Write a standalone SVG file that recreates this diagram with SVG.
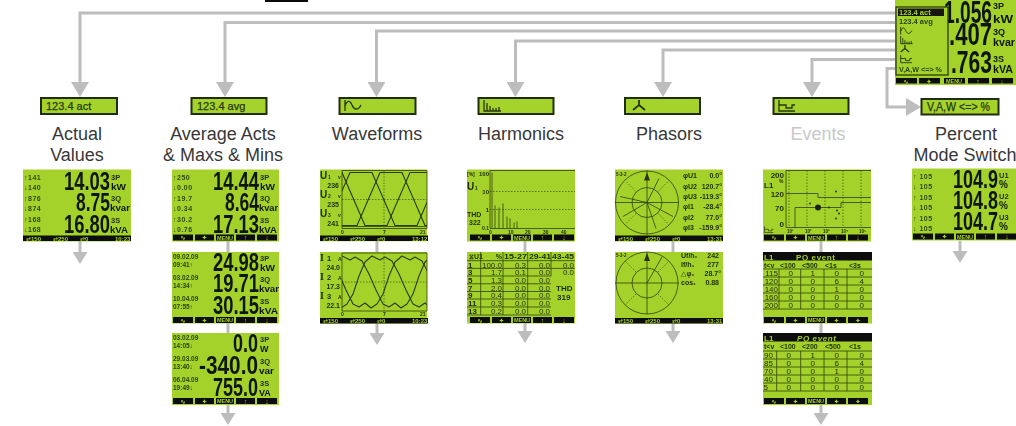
<svg xmlns="http://www.w3.org/2000/svg" width="1016" height="426" viewBox="0 0 1016 426">
<style>
text{font-family:"Liberation Sans",Arial,"DejaVu Sans",sans-serif;fill:#1d2c08}
.bg{fill:#a5d22b}
.lb{fill:#a5d22b;stroke:#1f2e0c;stroke-width:2}
.lt{font-size:11px;fill:#25390b;stroke:#25390b;stroke-width:.25}
.ti{font-size:18px;fill:#383838;text-anchor:middle}
.n{font-size:25px;font-weight:700;fill:#10180a}
.u{font-size:9px;font-weight:700;fill:#10180a}
.us{font-size:7.5px;font-weight:700}
.m{font-size:7px;font-weight:700;fill:#2f4a0e;letter-spacing:.5px}
.d{font-size:6.5px;font-weight:700;fill:#2a420c}
.k{font-size:7px;font-weight:700;fill:#a5d22b;text-anchor:middle}
.km{font-size:5.500px;font-weight:700;fill:#a5d22b;text-anchor:middle}
.st{font-size:6px;font-weight:700;fill:#a5d22b}
.c{fill:none;stroke:#bdbdbd;stroke-width:3}
.p{fill:none;stroke:#2e3f10;stroke-width:.8}
.w{fill:none;stroke:#2a3c0e;stroke-width:1.100;stroke-linejoin:round}
.dot{fill:none;stroke:#3a5010;stroke-width:.7;stroke-dasharray:1.500 1.500}
.b{font-size:8px;font-weight:700;fill:#1d2c08}
.bs{font-size:7px;font-weight:700;fill:#1d2c08}
.r{text-anchor:end}
.t{font-size:8px;fill:#1d2c08;text-anchor:end}
.tl{font-size:8px;font-weight:700;fill:#1d2c08}
.i{fill:none;stroke:#26360c;stroke-width:1.300}
</style>
<defs>
<filter id="soft" x="-2%" y="-2%" width="104%" height="104%"><feGaussianBlur stdDeviation="0.3"/></filter>
<marker id="big" markerUnits="userSpaceOnUse" markerWidth="15" markerHeight="18" refX="12" refY="9" orient="auto"><path d="M0 0L15 9L0 18Z" fill="#bdbdbd"/></marker>
<marker id="small" markerUnits="userSpaceOnUse" markerWidth="12" markerHeight="15" refX="9" refY="7.500" orient="auto"><path d="M0 0L12 7.500L0 15Z" fill="#bdbdbd"/></marker>
<g id="keys">
<path d="M1 65h20v6H1zM23 65h19v6H23zM44 65h18v6H44zM64 65h19v6H64zM85 65h20v6H85z" fill="#0c0c08"/>
<text class="k" x="11" y="70.500">∿</text><text class="k" x="32.500" y="70.500">✦</text><text class="km" x="53" y="70">MENU</text><text class="k" x="73.500" y="70.500">↑</text><text class="k" x="95" y="70.500">↓</text>
</g>
<g id="keysE">
<path d="M1 65h20v6H1zM23 65h19v6H23zM44 65h18v6H44zM64 65h19v6H64zM85 65h20v6H85z" fill="#0c0c08"/>
<text class="k" x="11" y="70.500">∿</text><text class="k" x="32.500" y="70.500">✦</text><text class="km" x="53" y="70">MENU</text><text class="k" x="73.500" y="70.500">✦</text><text class="k" x="95" y="70.500">✦</text>
</g>
<g id="stat">
<rect x="0" y="66" width="108" height="5.500" fill="#0c0c08"/>
<text class="st" x="3" y="71">⇄150</text><text class="st" x="30" y="71">⇄250</text><text class="st" x="57" y="71">⇄0</text>
</g>
<path id="sw" d="M0 3L23 56L45 56L68 3L90 3L113 56L135 56L158 3L180 3L203 56L225 56"/>
<path id="iw" d="M0 4L8 8L13 5L20 9L27 22L34 38L41 52L47 55L53 51L59 56L65 52L71 42L77 24L83 10L90 4L98 8L103 5L110 9L117 22L124 38L131 52L137 55L143 51L149 56L155 52L161 42L167 24L173 10L180 4L188 8L193 5L200 9L207 22"/>
<g id="icoW" class="i"><path d="M1 0V11M1 6C3 0 6 0 8 5S14 11 17 5"/></g>
<g id="icoH" class="i"><path d="M1 0V11H18M4 3V11M7 6V11M10 8V11M13 8V11M16 7V11"/></g>
<g id="icoP" class="i"><path d="M7 5V0M7 5L1 10M7 5L13 10" stroke-width="1.800"/></g>
<g id="icoE" class="i"><path d="M1 0V11H17M1 5H8V8H14V5H17"/></g>
<clipPath id="plotW"><rect x="22" y="1" width="85" height="58"/></clipPath>
</defs>

<g id="connectors">
<path class="c" marker-end="url(#big)" d="M895 13H80V94"/>
<path class="c" marker-end="url(#big)" d="M895 22.500H225V94"/>
<path class="c" marker-end="url(#big)" d="M895 31H376.500V94"/>
<path class="c" marker-end="url(#big)" d="M895 41H515.500V94"/>
<path class="c" marker-end="url(#big)" d="M895 50H663V94"/>
<path class="c" marker-end="url(#big)" d="M895 59.500H812V94"/>
<path class="c" marker-end="url(#big)" d="M895 68.500H887V107H918"/>
<path class="c" marker-end="url(#small)" d="M80 241V261"/>
<path class="c" d="M228 241V252M228 323V333"/>
<path class="c" marker-end="url(#small)" d="M228 405V422"/>
<path class="c" d="M377 241V252"/>
<path class="c" marker-end="url(#small)" d="M377 323V342"/>
<path class="c" d="M525 241V252"/>
<path class="c" marker-end="url(#small)" d="M525 323V340"/>
<path class="c" d="M673 241V252"/>
<path class="c" marker-end="url(#small)" d="M673 323V340"/>
<path class="c" d="M821 241V252M821 323V333"/>
<path class="c" marker-end="url(#small)" d="M821 405V422"/>
<path class="c" marker-end="url(#small)" d="M960 241V260"/>
</g>

<rect id="top-bar" x="265" y="0" width="43" height="2" fill="#0a0a0a"/>

<g id="device" filter="url(#soft)">
<rect class="bg" x="895" y="0" width="121" height="85"/>
<text class="n" style="font-size:31px" x="944" y="23" textLength="48" lengthAdjust="spacingAndGlyphs">1.056</text>
<text class="n" style="font-size:31px" x="949" y="45" textLength="43" lengthAdjust="spacingAndGlyphs">.407</text>
<text class="n" style="font-size:31px" x="951" y="73" textLength="41" lengthAdjust="spacingAndGlyphs">.763</text>
<text class="u" style="font-size:9px" x="993" y="9">3P</text><text class="u" style="font-size:10px" x="993" y="23" textLength="20" lengthAdjust="spacingAndGlyphs">kW</text>
<text class="u" style="font-size:9px" x="993" y="35">3Q</text><text class="u" style="font-size:10px" x="993" y="46" textLength="22" lengthAdjust="spacingAndGlyphs">kvar</text>
<text class="u" style="font-size:9px" x="993" y="62">3S</text><text class="u" style="font-size:10px" x="993" y="73" textLength="20" lengthAdjust="spacingAndGlyphs">kVA</text>
<rect x="896" y="7" width="52" height="68" fill="#a5d22b" stroke="#1f2e0c" stroke-width="1.200"/>
<rect x="898" y="8.500" width="46" height="7.500" fill="#12180a"/>
<text x="899" y="15" style="font-size:7.500px;font-weight:700;fill:#a5d22b">123.4 act</text>
<text x="899" y="24" style="font-size:7.500px;font-weight:700;fill:#2a420c">123.4 avg</text>
<use href="#icoW" transform="translate(900,27) scale(.7)"/>
<use href="#icoH" transform="translate(900,36) scale(.7)"/>
<use href="#icoP" transform="translate(900,45) scale(.7)"/>
<use href="#icoE" transform="translate(900,55) scale(.7)"/>
<text x="899" y="72" style="font-size:8px;font-weight:700;fill:#2a420c" textLength="43" lengthAdjust="spacingAndGlyphs">V,A,W &lt;=&gt; %</text>
<path d="M896 78h21v5.500H896zM919 78h21v5.500H919zM944 78h21v5.500H944zM968 78h21v5.500H968zM992 78h21v5.500H992z" fill="#0c0c08"/>
<text class="k" x="906" y="83.500">∿</text><text class="k" x="929" y="83.500">✦</text><text class="km" x="954" y="83">MENU</text><text class="k" x="978" y="83.500">↑</text><text class="k" x="1002" y="83.500">↓</text>
</g>

<g id="label-actual"><rect class="lb" x="41" y="98" width="76" height="16"/><text class="lt" x="46" y="110">123.4 act</text></g>
<g id="label-average"><rect class="lb" x="191.500" y="98" width="75" height="16"/><text class="lt" x="197" y="110">123.4 avg</text></g>
<g id="label-waveforms"><rect class="lb" x="339.500" y="98" width="76" height="16"/><use href="#icoW" x="344" y="100"/></g>
<g id="label-harmonics"><rect class="lb" x="478.500" y="98" width="75" height="16"/><use href="#icoH" x="483" y="100"/></g>
<g id="label-phasors"><rect class="lb" x="625" y="98" width="75" height="16"/><use href="#icoP" x="632" y="100"/></g>
<g id="label-events"><rect class="lb" x="773.500" y="98" width="75" height="16"/><use href="#icoE" x="778" y="100"/></g>
<g id="label-percent"><rect class="lb" x="921.500" y="99" width="77" height="15.500"/><text class="lt" style="font-size:12px" x="927" y="111" textLength="63" lengthAdjust="spacingAndGlyphs">V,A,W &lt;=&gt; %</text></g>

<text class="ti" x="77" y="140">Actual</text><text class="ti" x="77" y="161">Values</text>
<text class="ti" x="223" y="140">Average Acts</text><text class="ti" x="223" y="161">&amp; Maxs &amp; Mins</text>
<text class="ti" x="377" y="140">Waveforms</text>
<text class="ti" x="521" y="140">Harmonics</text>
<text class="ti" x="669" y="140">Phasors</text>
<text class="ti" x="818" y="140" style="fill:#c9c9c9">Events</text>
<text class="ti" x="966" y="140">Percent</text><text class="ti" x="965" y="161">Mode Switch</text>

<g id="screen-actual" transform="translate(23,169.500)" filter="url(#soft)">
<rect class="bg" width="108" height="72"/>
<text class="m" x="1" y="10">↑141</text><text class="m" x="1" y="20">↓140</text><text class="m" x="1" y="31">↑876</text><text class="m" x="1" y="41">↓874</text><text class="m" x="1" y="52">↑168</text><text class="m" x="1" y="62">↓168</text>
<text class="n" x="41" y="20" textLength="46" lengthAdjust="spacingAndGlyphs">14.03</text>
<text class="n" x="53" y="41" textLength="34" lengthAdjust="spacingAndGlyphs">8.75</text>
<text class="n" x="41" y="63" textLength="46" lengthAdjust="spacingAndGlyphs">16.80</text>
<text class="us" x="88" y="10">3P</text><text class="u" x="88" y="20" textLength="15" lengthAdjust="spacingAndGlyphs">kW</text>
<text class="us" x="88" y="31">3Q</text><text class="u" x="87" y="41" textLength="20" lengthAdjust="spacingAndGlyphs">kvar</text>
<text class="us" x="88" y="53">3S</text><text class="u" x="87" y="63" textLength="18" lengthAdjust="spacingAndGlyphs">kVA</text>
<use href="#stat"/><text class="st" x="92" y="71">10:23</text>
</g>

<g id="screen-average" transform="translate(172,169.500)" filter="url(#soft)">
<rect class="bg" width="107" height="72"/>
<text class="m" x="1" y="10">↑250</text><text class="m" x="1" y="20">↓0.00</text><text class="m" x="1" y="31">↑19.7</text><text class="m" x="1" y="41">↓0.34</text><text class="m" x="1" y="52">↑30.2</text><text class="m" x="1" y="62">↓0.76</text>
<text class="n" x="41" y="20" textLength="46" lengthAdjust="spacingAndGlyphs">14.44</text>
<text class="n" x="53" y="41" textLength="34" lengthAdjust="spacingAndGlyphs">8.64</text>
<text class="n" x="41" y="63" textLength="46" lengthAdjust="spacingAndGlyphs">17.13</text>
<text class="us" x="88" y="10">3P</text><text class="u" x="88" y="20" textLength="15" lengthAdjust="spacingAndGlyphs">kW</text>
<text class="us" x="88" y="31">3Q</text><text class="u" x="87" y="41" textLength="19" lengthAdjust="spacingAndGlyphs">kvar</text>
<text class="us" x="88" y="53">3S</text><text class="u" x="87" y="63" textLength="18" lengthAdjust="spacingAndGlyphs">kVA</text>
<use href="#keys"/>
</g>

<g id="screen-max" transform="translate(172,252)" filter="url(#soft)">
<rect class="bg" width="107" height="71.500"/>
<text class="d" x="1" y="7">09.02.09</text><text class="d" x="1" y="15">09:41↑</text>
<text class="d" x="1" y="28">03.02.09</text><text class="d" x="1" y="36">14:34↑</text>
<text class="d" x="1" y="49">10.04.09</text><text class="d" x="1" y="57">07:55↑</text>
<text class="n" x="41" y="19" textLength="46" lengthAdjust="spacingAndGlyphs">24.98</text>
<text class="n" x="41" y="40" textLength="46" lengthAdjust="spacingAndGlyphs">19.71</text>
<text class="n" x="41" y="62" textLength="46" lengthAdjust="spacingAndGlyphs">30.15</text>
<text class="us" x="88" y="9">3P</text><text class="u" x="88" y="19" textLength="15" lengthAdjust="spacingAndGlyphs">kW</text>
<text class="us" x="88" y="30">3Q</text><text class="u" x="87" y="40" textLength="20" lengthAdjust="spacingAndGlyphs">kvar</text>
<text class="us" x="88" y="52">3S</text><text class="u" x="87" y="62" textLength="19" lengthAdjust="spacingAndGlyphs">kVA</text>
<use href="#keys"/>
</g>

<g id="screen-min" transform="translate(172,333)" filter="url(#soft)">
<rect class="bg" width="107" height="72"/>
<text class="d" x="1" y="7">03.02.09</text><text class="d" x="1" y="15">14:05↓</text>
<text class="d" x="1" y="28">29.03.09</text><text class="d" x="1" y="36">13:40↓</text>
<text class="d" x="1" y="49">06.04.09</text><text class="d" x="1" y="57">19:49↓</text>
<text class="n" x="61" y="19" textLength="25" lengthAdjust="spacingAndGlyphs">0.0</text>
<text class="n" x="27" y="41" textLength="59" lengthAdjust="spacingAndGlyphs">-340.0</text>
<text class="n" x="41" y="63" textLength="45" lengthAdjust="spacingAndGlyphs">755.0</text>
<text class="us" x="88" y="9">3P</text><text class="u" x="88" y="19">W</text>
<text class="us" x="88" y="31">3Q</text><text class="u" x="87" y="41" textLength="15" lengthAdjust="spacingAndGlyphs">var</text>
<text class="us" x="88" y="53">3S</text><text class="u" x="87" y="63">VA</text>
<use href="#keys"/>
</g>

<g id="screen-wave-u" transform="translate(320,169.500)" filter="url(#soft)">
<rect class="bg" width="107" height="72"/>
<text class="b" style="font-size:10px" x="0" y="9">U</text><text class="us" style="font-size:5px" x="8" y="9">1</text><text class="us" style="font-size:5px" x="18" y="9">v</text><text class="bs r" x="19" y="18">236</text>
<text class="b" style="font-size:10px" x="0" y="28">U</text><text class="us" style="font-size:5px" x="8" y="28">2</text><text class="us" style="font-size:5px" x="18" y="28">v</text><text class="bs r" x="19" y="37">235</text>
<text class="b" style="font-size:10px" x="0" y="47">U</text><text class="us" style="font-size:5px" x="8" y="47">3</text><text class="us" style="font-size:5px" x="18" y="47">v</text><text class="bs r" x="19" y="56">241</text>
<path class="p" d="M22 1H107V59H22ZM22 57H107"/>
<path class="dot" d="M22 30H107M64 1V59"/>
<g clip-path="url(#plotW)" class="w">
<use href="#sw" x="-68"/><use href="#sw" x="-38"/><use href="#sw" x="-8"/>
</g>
<text class="us" style="font-size:5px" x="21" y="64">0</text><text class="us" style="font-size:5px" x="63" y="64">7</text><text class="us" style="font-size:5px" x="100" y="64">21</text>
<use href="#stat"/><text class="st" x="92" y="71">13:12</text>
</g>

<g id="screen-wave-i" transform="translate(320,252)" filter="url(#soft)">
<rect class="bg" width="107" height="71.500"/>
<text class="b" style="font-size:10px;font-family:'Liberation Serif',serif" x="0" y="9">I</text><text class="us" x="7" y="9">1</text><text class="us" style="font-size:5px" x="18" y="9">A</text><text class="bs r" x="20" y="18">24.0</text>
<text class="b" style="font-size:10px;font-family:'Liberation Serif',serif" x="0" y="28">I</text><text class="us" x="7" y="28">2</text><text class="us" style="font-size:5px" x="18" y="28">A</text><text class="bs r" x="20" y="37">17.3</text>
<text class="b" style="font-size:10px;font-family:'Liberation Serif',serif" x="0" y="47">I</text><text class="us" x="7" y="47">3</text><text class="us" style="font-size:5px" x="18" y="47">A</text><text class="bs r" x="20" y="56">22.1</text>
<path class="p" d="M22 1H107V59H22Z"/>
<path class="dot" d="M22 30H107M64 1V59"/>
<g clip-path="url(#plotW)" class="w">
<use href="#iw" x="-68"/><use href="#iw" x="-38"/><use href="#iw" x="-8"/>
</g>
<text class="us" style="font-size:5px" x="21" y="64">0</text><text class="us" style="font-size:5px" x="63" y="64">7</text><text class="us" style="font-size:5px" x="100" y="64">21</text>
<use href="#stat"/><text class="st" x="92" y="71">10:23</text>
</g>

<g id="screen-harm-plot" transform="translate(467,169.500)" filter="url(#soft)">
<rect class="bg" width="108" height="72"/>
<text class="us" style="font-size:5px" x="0" y="6">[%]</text><text class="us r" style="font-size:6px" x="22" y="6">100</text>
<text class="b" style="font-size:10px" x="0" y="20">U</text><text class="us" style="font-size:5px" x="8" y="20">1</text>
<text class="us r" style="font-size:6px" x="22" y="24">10</text><text class="us r" style="font-size:6px" x="22" y="42">1</text>
<text class="bs" x="0" y="47">THD</text><text class="bs" x="2" y="55">322</text><text class="us r" style="font-size:5px" x="22" y="60">0.1</text>
<path class="p" d="M23 1H108M23 1V59H108"/>
<path class="dot" d="M23 22H108M23 40H108"/>
<path class="p" d="M25 3V59" stroke-width="2"/>
<path class="p" d="M28 36V59M32 38V59M36 34V59M40 47V59M43 49V59M47 53V59M50 52V59"/>
<text class="us" style="font-size:5px" x="22" y="64">0</text><text class="us" style="font-size:5px" x="41" y="64">10</text><text class="us" style="font-size:5px" x="58" y="64">20</text><text class="us" style="font-size:5px" x="76" y="64">30</text><text class="us" style="font-size:5px" x="94" y="64">40</text>
<use href="#keys" transform="translate(2,0)"/>
</g>

<g id="screen-harm-table" transform="translate(467,252)" filter="url(#soft)">
<rect class="bg" width="108" height="71.500"/>
<path class="p" d="M0 8.700H108M0 16.400H108M0 24H84M0 31.800H84M0 39.500H84M0 47H84M0 55H84M0 63H84M13.700 0V63M36 0V63M60.700 0V63M84 0V24"/>
<text class="bs" x="2" y="7">⧖U1</text><text class="bs r" x="35" y="7">%</text><text class="bs" x="37" y="7" textLength="23" lengthAdjust="spacingAndGlyphs">15-27</text><text class="bs" x="62" y="7" textLength="22" lengthAdjust="spacingAndGlyphs">29-41</text><text class="bs" x="85" y="7" textLength="22" lengthAdjust="spacingAndGlyphs">43-45</text>
<text class="tl" x="1" y="15.500">1</text><text class="t" x="35" y="15.500">100.0</text><text class="t" x="59" y="15.500">0.3</text><text class="t" x="83" y="15.500">0.0</text><text class="t" x="107" y="15.500">0.0</text>
<text class="tl" x="1" y="23">3</text><text class="t" x="35" y="23">1.7</text><text class="t" x="59" y="23">0.1</text><text class="t" x="83" y="23">0.0</text><text class="t" x="107" y="23">0.0</text>
<text class="tl" x="1" y="31">5</text><text class="t" x="35" y="31">1.3</text><text class="t" x="59" y="31">0.0</text><text class="t" x="83" y="31">0.0</text>
<text class="tl" x="1" y="38.500">7</text><text class="t" x="35" y="38.500">2.0</text><text class="t" x="59" y="38.500">0.0</text><text class="t" x="83" y="38.500">0.0</text>
<text class="tl" x="1" y="46">9</text><text class="t" x="35" y="46">0.4</text><text class="t" x="59" y="46">0.0</text><text class="t" x="83" y="46">0.0</text>
<text class="tl" x="1" y="54">11</text><text class="t" x="35" y="54">0.3</text><text class="t" x="59" y="54">0.0</text><text class="t" x="83" y="54">0.0</text>
<text class="tl" x="1" y="62">13</text><text class="t" x="35" y="62">0.2</text><text class="t" x="59" y="62">0.0</text><text class="t" x="83" y="62">0.0</text>
<text class="b" x="89" y="39">THD</text><text class="b" x="90" y="48">319</text>
<use href="#keys" transform="translate(2,0)"/>
</g>

<g id="screen-phasor-angles" transform="translate(615,169.500)" filter="url(#soft)">
<rect class="bg" width="108" height="72"/>
<circle class="p" cx="32" cy="33" r="31.500"/><circle class="p" cx="32" cy="33" r="15"/>
<path class="p" d="M0 33H64M32 1V65"/>
<path class="dot" d="M21 22L10 11M43 44L54 55M21 44L10 55M43 22L54 11"/>
<path class="p" stroke-width="1.200" d="M32 33L44 9M32 33L5 27M32 33L8 47M32 33L58 47M32 33L41 59"/>
<path d="M32 3L29 11H35Z" fill="#26360c"/>
<text class="us" style="font-size:4.500px" x="1" y="6">5-3-2</text>
<text class="bs" x="68" y="8">φU1</text><text class="bs r" x="107" y="8">0.0°</text>
<text class="bs" x="68" y="19">φU2</text><text class="bs r" x="107" y="19">120.7°</text>
<text class="bs" x="68" y="29">φU3</text><text class="bs r" x="107" y="29">-119.3°</text>
<text class="bs" x="68" y="39">φI1</text><text class="bs r" x="107" y="39">-28.4°</text>
<text class="bs" x="68" y="50">φI2</text><text class="bs r" x="107" y="50">77.0°</text>
<text class="bs" x="68" y="60">φI3</text><text class="bs r" x="107" y="60">-159.9°</text>
<use href="#stat"/><text class="st" x="92" y="71">13:31</text>
</g>

<g id="screen-phasor-u" transform="translate(615,252)" filter="url(#soft)">
<rect class="bg" width="108" height="71.500"/>
<circle class="p" cx="32" cy="31" r="31"/><circle class="p" cx="32" cy="31" r="15"/>
<path class="p" d="M0 31H64M32 0V62"/>
<path class="dot" d="M21 20L10 9M43 42L54 53M21 42L10 53M43 20L54 9"/>
<path class="p" stroke-width="1.200" d="M32 31L47 5"/>
<path d="M32 1L29 9H35Z" fill="#26360c"/>
<text class="us" style="font-size:4.500px" x="1" y="5">5-3-2</text>
<text class="bs" x="66" y="6">Uf/h₁</text><text class="bs r" x="104" y="6">242</text>
<text class="bs" x="66" y="15">If/h₁</text><text class="bs r" x="104" y="15">277</text>
<text class="bs" x="66" y="24">△φ₁</text><text class="bs r" x="106" y="24">28.7°</text>
<text class="bs" x="66" y="33">cos₁</text><text class="bs r" x="104" y="33">0.88</text>
<use href="#stat"/><text class="st" x="92" y="71">13:31</text>
</g>

<g id="screen-events-plot" transform="translate(763,169.500)" filter="url(#soft)">
<rect class="bg" width="108" height="72"/>
<text class="b r" x="21" y="8">200</text><text class="us" style="font-size:5px" x="16" y="13">%</text><text class="b" x="1" y="18">L1</text>
<text class="b r" x="21" y="27">120</text><text class="b r" x="21" y="41">70</text><text class="b r" x="21" y="57">0</text>
<path class="p" d="M23 1H108M23 1V58H108"/>
<path class="dot" d="M26 1V58M44 1V58M62 1V58M80 1V58M98 1V58"/>
<path class="p" d="M23 24H55V28H108M32 58V38H78V33H108"/>
<circle cx="55" cy="38" r="3" fill="#18240a"/>
<g fill="#26360c"><circle cx="73" cy="22" r="1"/><circle cx="47" cy="34" r="1"/><circle cx="66" cy="38" r="1"/><circle cx="74" cy="41" r="1"/><circle cx="76" cy="44" r="1"/><circle cx="73" cy="49" r="1"/></g>
<use href="#icoE" transform="translate(1,57) scale(.55)"/>
<text class="us" style="font-size:4.500px" x="24" y="63">10¹</text><text class="us" style="font-size:4.500px" x="42" y="63">10²</text><text class="us" style="font-size:4.500px" x="60" y="63">10³</text><text class="us" style="font-size:4.500px" x="78" y="63">10⁴</text><text class="us" style="font-size:4.500px" x="96" y="63">10⁵</text>
<use href="#keys"/>
</g>

<g id="screen-events-over" transform="translate(763,252)" filter="url(#soft)">
<rect class="bg" width="109" height="71.500"/>
<rect width="109" height="8.500" fill="#0c0c08"/>
<text x="1" y="7.500" style="font-size:8px;font-weight:700;fill:#a5d22b">L1</text><text x="33" y="7.500" style="font-size:8px;font-weight:700;fill:#a5d22b;letter-spacing:.6px">PQ event</text>
<path class="p" d="M0 17H109M0 25H109M0 33H109M0 41H109M0 49H109M0 57H109M16 17V57M37.700 17V57M61 17V57M84 17V57"/>
<text class="bs" x="1" y="15.500">t&lt;v</text><text class="bs" x="17" y="15.500">&lt;100</text><text class="bs" x="39" y="15.500">&lt;500</text><text class="bs" x="62" y="15.500">&lt;1s</text><text class="bs" x="86" y="15.500">&lt;3s</text>
<text class="t" x="15" y="24">115</text><text class="t" x="30" y="24">0</text><text class="t" x="52" y="24">1</text><text class="t" x="76" y="24">0</text><text class="t" x="101" y="24">0</text>
<text class="t" x="15" y="32">120</text><text class="t" x="30" y="32">0</text><text class="t" x="52" y="32">0</text><text class="t" x="76" y="32">6</text><text class="t" x="101" y="32">4</text>
<text class="t" x="15" y="40">140</text><text class="t" x="30" y="40">0</text><text class="t" x="52" y="40">0</text><text class="t" x="76" y="40">1</text><text class="t" x="101" y="40">0</text>
<text class="t" x="15" y="48">160</text><text class="t" x="30" y="48">0</text><text class="t" x="52" y="48">0</text><text class="t" x="76" y="48">0</text><text class="t" x="101" y="48">0</text>
<text class="t" x="15" y="56">200</text><text class="t" x="30" y="56">0</text><text class="t" x="52" y="56">0</text><text class="t" x="76" y="56">0</text><text class="t" x="101" y="56">0</text>
<use href="#keysE"/>
</g>

<g id="screen-events-under" transform="translate(763,333)" filter="url(#soft)">
<rect class="bg" width="109" height="72"/>
<rect width="109" height="8.500" fill="#0c0c08"/>
<text x="1" y="7.500" style="font-size:8px;font-weight:700;fill:#a5d22b">L1</text><text x="34" y="7.500" style="font-size:8px;font-weight:700;font-style:italic;fill:#a5d22b;letter-spacing:.6px">PQ event</text>
<path class="p" d="M0 18H109M0 26H109M0 34H109M0 42H109M0 50H109M0 58H109M13.700 18V58M37.700 18V58M61 18V58M84 18V58"/>
<text class="bs" x="1" y="16">t&lt;v</text><text class="bs" x="17" y="16">&lt;100</text><text class="bs" x="39" y="16">&lt;200</text><text class="bs" x="62" y="16">&lt;500</text><text class="bs" x="86" y="16">&lt;1s</text>
<text class="t" x="10" y="25">90</text><text class="t" x="28" y="25">0</text><text class="t" x="52" y="25">1</text><text class="t" x="76" y="25">0</text><text class="t" x="101" y="25">0</text>
<text class="t" x="10" y="33">85</text><text class="t" x="28" y="33">0</text><text class="t" x="52" y="33">0</text><text class="t" x="76" y="33">6</text><text class="t" x="101" y="33">4</text>
<text class="t" x="10" y="41">70</text><text class="t" x="28" y="41">0</text><text class="t" x="52" y="41">0</text><text class="t" x="76" y="41">1</text><text class="t" x="101" y="41">0</text>
<text class="t" x="10" y="49">40</text><text class="t" x="28" y="49">0</text><text class="t" x="52" y="49">0</text><text class="t" x="76" y="49">0</text><text class="t" x="101" y="49">0</text>
<text class="t" x="5" y="57">5</text><text class="t" x="28" y="57">0</text><text class="t" x="52" y="57">0</text><text class="t" x="76" y="57">0</text><text class="t" x="101" y="57">0</text>
<use href="#keysE"/>
</g>

<g id="screen-percent" transform="translate(912,168.500)" filter="url(#soft)">
<rect class="bg" width="104" height="72"/>
<text class="m" x="1" y="10">↑ 105</text><text class="m" x="1" y="20">↓ 105</text><text class="m" x="1" y="31">↑ 105</text><text class="m" x="1" y="41">↓ 105</text><text class="m" x="1" y="52">↑ 105</text><text class="m" x="1" y="62">↓ 105</text>
<text class="n" x="41" y="19" textLength="45" lengthAdjust="spacingAndGlyphs">104.9</text>
<text class="n" x="41" y="40" textLength="45" lengthAdjust="spacingAndGlyphs">104.8</text>
<text class="n" x="41" y="61" textLength="45" lengthAdjust="spacingAndGlyphs">104.7</text>
<text class="us" x="87" y="9">U1</text><text class="u" style="font-size:10px" x="87" y="19">%</text>
<text class="us" x="87" y="30">U2</text><text class="u" style="font-size:10px" x="87" y="40">%</text>
<text class="us" x="87" y="51">U3</text><text class="u" style="font-size:10px" x="87" y="61">%</text>
<use href="#keys"/>
</g>
</svg>
